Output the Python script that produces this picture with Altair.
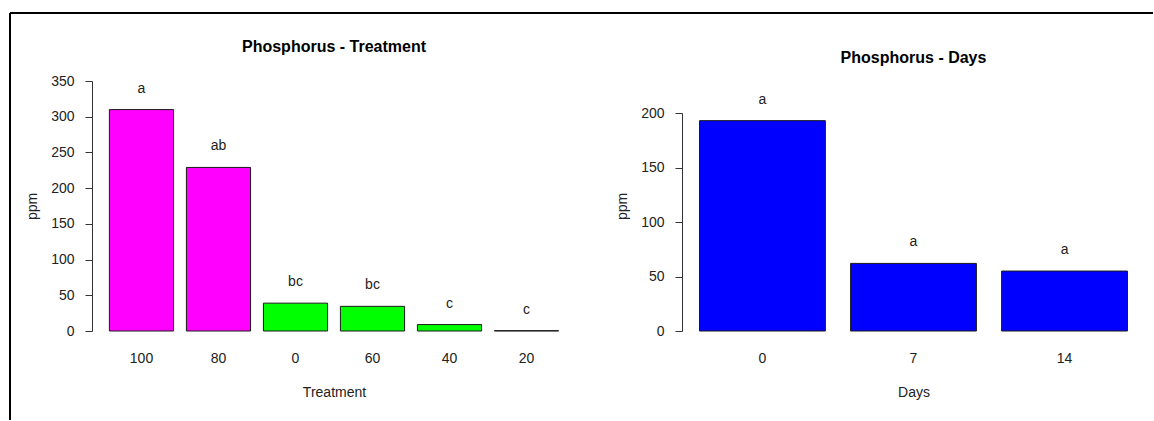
import altair as alt
import pandas as pd

# Phosphorus (ppm) by treatment level, with mean-separation letters
treatments = ["100", "80", "0", "60", "40", "20"]
treatment_ppm = [310, 229, 39, 34.5, 9, 0.5]
treatment_letters = ["a", "ab", "bc", "bc", "c", "c"]
treatment_colors = ["#FF00FF", "#FF00FF", "#00FF00", "#00FF00", "#00FF00", "#00FF00"]

# Phosphorus (ppm) by sampling day
days = ["0", "7", "14"]
days_ppm = [193, 62, 55]
days_letters = ["a", "a", "a"]
days_colors = ["#0000FF", "#0000FF", "#0000FF"]

FONT = "Liberation Sans"

treat_df = pd.DataFrame({"Treatment": treatments, "ppm": treatment_ppm,
                         "letter": treatment_letters, "color": treatment_colors})
days_df = pd.DataFrame({"Days": days, "ppm": days_ppm,
                        "letter": days_letters, "color": days_colors})


def y_axis(values, title_y):
    return alt.Axis(values=values, grid=False, domainColor="#333333", tickColor="#333333",
                    tickSize=7, labelPadding=11, labelFontSize=14, labelColor="#222222",
                    labelFont=FONT, labelOverlap=False, title="ppm", titleFont=FONT,
                    titleFontSize=14, titleFontWeight="normal", titleColor="#222222",
                    titleX=-60, titleY=title_y, titleBaseline="middle", titleAngle=-90)


def x_axis(title):
    return alt.Axis(domain=False, ticks=False, tickSize=0, labelAngle=0, labelPadding=27,
                    labelBaseline="middle", labelFontSize=14, labelColor="#222222",
                    labelFont=FONT, title=title, titleFont=FONT, titleFontSize=14,
                    titleFontWeight="normal", titleColor="#222222", titleY=61,
                    titleBaseline="middle")


def panel_title(text, offset, dy):
    return alt.TitleParams(text=text, font=FONT, fontSize=16, fontWeight="bold",
                           color="#000000", anchor="middle", offset=offset, dy=dy)


# Left panel: treatments
t_base = alt.Chart(treat_df).encode(
    x=alt.X("Treatment:N", sort=treatments, axis=x_axis("Treatment"),
            scale=alt.Scale(paddingInner=0.1667, paddingOuter=0.226)),
    y=alt.Y("ppm:Q", axis=y_axis(list(range(0, 351, 50)), 125),
            scale=alt.Scale(domain=[0, 350], nice=False)),
)
t_bars = t_base.mark_bar(stroke="#1a1a1a", strokeWidth=1).encode(
    color=alt.Color("color:N", scale=None))
t_text = t_base.mark_text(font=FONT, fontSize=14, color="#222222",
                          dy=-21, baseline="middle").encode(text="letter:N")

# Outer frame around the figure
frame_df = pd.DataFrame({"edge": ["frame"]})
frame_top = alt.Chart(frame_df).mark_rule(color="#000000", strokeWidth=2).encode(
    x=alt.value(-82), x2=alt.value(1061), y=alt.value(-68))
frame_left = alt.Chart(frame_df).mark_rule(color="#000000", strokeWidth=2).encode(
    x=alt.value(-82), y=alt.value(-68), y2=alt.value(339))

left = alt.layer(t_bars, t_text, frame_top, frame_left).properties(
    width=484, height=250, title=panel_title("Phosphorus - Treatment", 0, 43))

# Right panel: days
d_base = alt.Chart(days_df).encode(
    x=alt.X("Days:N", sort=days, axis=x_axis("Days"),
            scale=alt.Scale(paddingInner=0.1667, paddingOuter=0.116)),
    y=alt.Y("ppm:Q", axis=y_axis(list(range(0, 201, 50)), 125),
            scale=alt.Scale(domain=[0, 200], range=[250, 32], nice=False)),
)
d_bars = d_base.mark_bar(stroke="#1a1a1a", strokeWidth=1).encode(
    color=alt.Color("color:N", scale=None))
d_text = d_base.mark_text(font=FONT, fontSize=14, color="#222222",
                          dy=-21, baseline="middle").encode(text="letter:N")

right = alt.layer(d_bars, d_text).properties(
    width=463, height=250, title=panel_title("Phosphorus - Days", 15, 0))

chart = alt.hconcat(left, right, spacing=106, bounds="flush").properties(
    padding={"left": 9, "top": 12, "right": 0, "bottom": 0},
    background="#FFFFFF",
).configure_view(strokeWidth=0)

chart.save("out.html", embed_options={"renderer": "svg", "actions": False})
